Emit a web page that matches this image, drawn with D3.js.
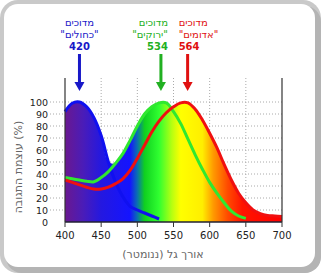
<!DOCTYPE html>
<html>
<head>
<meta charset="utf-8">
<script src="https://cdn.jsdelivr.net/npm/d3@7"></script>
<style>
  body { margin: 0; background: #fff; }
  svg { display: block; }
  text { font-family: "DejaVu Sans", sans-serif; }
</style>
</head>
<body>
<div id="chart"></div>
<script>
// wavelength grid (nm) and cone response (%)
const wavelengths = [400, 410, 420, 430, 440, 450, 460, 470, 480, 490, 500, 510, 520, 530, 540,
  550, 560, 570, 580, 590, 600, 610, 620, 630, 640, 650, 660, 670, 680, 690, 700];
const blueCone = [92, 99, 100, 96, 87, 72, 50, 33, 21, 13, 10, 7.5, 5, 2.5];
const greenCone = [37, 36, 35, 34, 33.5, 37, 42, 49, 57, 68, 80, 90, 96, 99.3, 99.3,
  92, 82, 69, 56, 44, 33, 24, 16, 9, 5, 3];
const redCone = [35, 33, 31, 29, 27.5, 27.5, 29, 32, 36, 43, 53, 64, 75, 84, 91,
  96, 99.3, 99.3, 94, 85, 74, 62, 48, 35, 24, 16, 10, 7, 5.5, 5, 4.5];

const xTicks = [400, 450, 500, 550, 600, 650, 700];
const yTicks = [0, 10, 20, 30, 40, 50, 60, 70, 80, 90, 100];

const coneWord = 'מדוכים';
const coneNames = ['"כחולים"', '"ירוקים"', '"אדומים"'];
const conePeaks = [420, 534, 564];

const xTitle = 'אורך גל (ננומטר)';
const yTitle = 'עוצמת התגובה (%)';

// spectrum colours along the wavelength axis
const spectrumStops = [
  [400, '#6a1890'], [425, '#4a1cb8'], [450, '#2418e0'], [490, '#1414ff'],
  [500, '#0a70b0'], [510, '#10d020'], [530, '#30ff30'], [548, '#b8ff10'],
  [560, '#ffff00'], [590, '#ffee00'], [605, '#ff9a00'], [625, '#ff4a00'],
  [645, '#ff1400'], [700, '#ff0000'],
];

const W = 321, H = 273;
const svg = d3.select('#chart').append('svg')
  .attr('width', W)
  .attr('height', H);

// frame
svg.append('rect')
  .attr('x', 0).attr('y', 0).attr('width', W).attr('height', H)
  .attr('rx', 18).attr('fill', '#c9c9c9');
svg.append('rect')
  .attr('x', 6).attr('y', 6).attr('width', W - 6).attr('height', H - 6)
  .attr('rx', 16).attr('fill', '#b4b4b4');
svg.append('rect')
  .attr('x', 4).attr('y', 4).attr('width', 311).attr('height', 263)
  .attr('rx', 14).attr('fill', '#fff');

// scales
const x = d3.scaleLinear().domain([400, 700]).range([65, 282]);
const y = d3.scaleLinear().domain([0, 100]).range([222, 102]);
const yTop = y(120);

const defs = svg.append('defs');
const grad = defs.append('linearGradient')
  .attr('id', 'spectrum')
  .attr('gradientUnits', 'userSpaceOnUse')
  .attr('x1', x(400)).attr('x2', x(700))
  .attr('y1', 0).attr('y2', 0);
grad.selectAll('stop')
  .data(spectrumStops)
  .join('stop')
  .attr('offset', d => (d[0] - 400) / 300)
  .attr('stop-color', d => d[1]);

// grid
const grid = svg.append('g');
grid.selectAll('.hgrid')
  .data(yTicks.slice(1))
  .join('line')
  .attr('x1', 50).attr('x2', x(700))
  .attr('y1', d => y(d)).attr('y2', d => y(d))
  .attr('stroke', '#aaa')
  .attr('stroke-dasharray', '1,2');
grid.selectAll('.vgrid')
  .data(xTicks.slice(1, -1))
  .join('line')
  .attr('x1', d => x(d)).attr('x2', d => x(d))
  .attr('y1', yTop).attr('y2', y(0))
  .attr('stroke', '#aaa')
  .attr('stroke-dasharray', '1,2');

// series as points
const series = [blueCone, greenCone, redCone].map(arr =>
  arr.map((v, i) => ({ w: wavelengths[i], v })));
const envelope = wavelengths.map((w, i) => ({
  w,
  v: d3.max([blueCone[i], greenCone[i], redCone[i]].filter(v => v != null)),
}));

const area = d3.area()
  .x(d => x(d.w))
  .y0(y(0))
  .y1(d => y(d.v))
  .curve(d3.curveCatmullRom);
svg.append('path')
  .datum(envelope)
  .attr('d', area)
  .attr('fill', 'url(#spectrum)');

const line = d3.line()
  .x(d => x(d.w))
  .y(d => y(d.v))
  .curve(d3.curveCatmullRom);
const lineColors = ['#1010f0', '#30e830', '#f01010'];
svg.selectAll('.cone')
  .data(series)
  .join('path')
  .attr('d', line)
  .attr('fill', 'none')
  .attr('stroke', (d, i) => lineColors[i])
  .attr('stroke-width', 3)
  .attr('stroke-linejoin', 'round');

// axes
svg.append('line')
  .attr('x1', x(400)).attr('x2', x(700))
  .attr('y1', y(0)).attr('y2', y(0))
  .attr('stroke', '#223').attr('stroke-width', 1.5);
svg.selectAll('.vaxis')
  .data([400, 700])
  .join('line')
  .attr('x1', d => x(d)).attr('x2', d => x(d))
  .attr('y1', yTop).attr('y2', y(0))
  .attr('stroke', '#333').attr('stroke-width', 1.2);
svg.selectAll('.xtick')
  .data(xTicks)
  .join('line')
  .attr('x1', d => x(d)).attr('x2', d => x(d))
  .attr('y1', y(0)).attr('y2', y(0) + 5)
  .attr('stroke', '#333');

svg.selectAll('.xlabel')
  .data(xTicks)
  .join('text')
  .attr('x', d => x(d))
  .attr('y', 239)
  .attr('text-anchor', 'middle')
  .attr('font-size', 10)
  .attr('fill', '#222')
  .text(d => d);
svg.selectAll('.ylabel')
  .data(yTicks)
  .join('text')
  .attr('x', 48)
  .attr('y', d => y(d) + 3.5)
  .attr('text-anchor', 'end')
  .attr('font-size', 9.5)
  .attr('fill', '#222')
  .text(d => d);

svg.append('text')
  .attr('x', 163).attr('y', 258)
  .attr('text-anchor', 'middle')
  .attr('font-size', 11)
  .attr('fill', '#666')
  .text(xTitle);
svg.append('text')
  .attr('transform', 'translate(22,167) rotate(-90)')
  .attr('text-anchor', 'middle')
  .attr('font-size', 11)
  .attr('fill', '#666')
  .text(yTitle);

// cone labels and arrows
const labelColors = ['#1818c8', '#22b022', '#e01010'];
const arrowDx = [0, -1, 4];
const textDx = [0, 7, -9];
const anchors = ['middle', 'end', 'start'];
conePeaks.forEach((p, i) => {
  const ax = x(p) + arrowDx[i];
  const g = svg.append('g').attr('fill', labelColors[i]);
  [coneWord, coneNames[i], p].forEach((t, j) => {
    g.append('text')
      .attr('x', ax + textDx[i])
      .attr('y', 26 + j * 12)
      .attr('text-anchor', anchors[i])
      .attr('font-size', 10)
      .attr('font-weight', j === 2 ? 'bold' : 'normal')
      .text(t);
  });
  g.append('rect')
    .attr('x', ax - 1.5).attr('y', 54)
    .attr('width', 3).attr('height', 29);
  g.append('path')
    .attr('d', `M${ax - 5},82L${ax + 5},82L${ax},91Z`);
});
</script>
</body>
</html>
